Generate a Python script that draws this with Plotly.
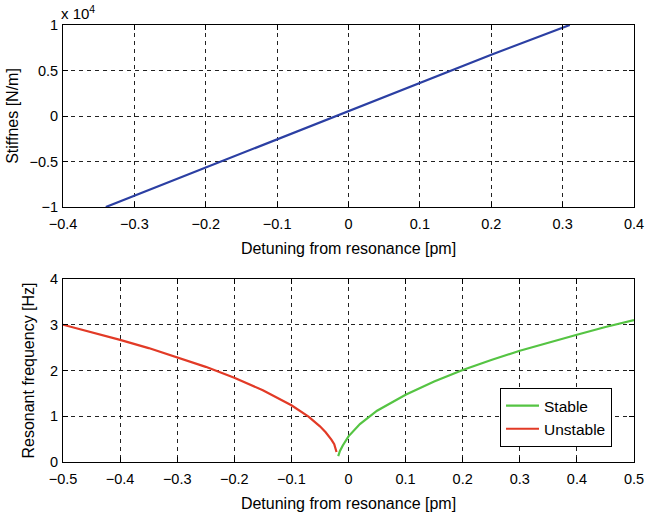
import plotly.graph_objects as go
from plotly.subplots import make_subplots

# Static stiffness versus detuning (N/m)
detuning_k = [-0.34, -0.2, 0.0, 0.1, 0.2, 0.31]
stiffness = [-10000, -5670, 530, 3630, 6730, 10000]

# Resonant frequency, unstable branch (negative stiffness)
detuning_unstable = [-0.5, -0.45, -0.4, -0.35, -0.3, -0.25, -0.2, -0.15, -0.1,
                     -0.07, -0.05, -0.04, -0.03, -0.025, -0.021]
freq_unstable = [3.00, 2.84, 2.67, 2.49, 2.29, 2.08, 1.84, 1.57, 1.24,
                 0.99, 0.78, 0.65, 0.49, 0.39, 0.22]

# Resonant frequency, stable branch (positive stiffness)
detuning_stable = [-0.018, -0.015, -0.01, 0.0, 0.02, 0.05, 0.1, 0.15, 0.2,
                   0.25, 0.3, 0.35, 0.4, 0.45, 0.5]
freq_stable = [0.13, 0.24, 0.36, 0.56, 0.83, 1.12, 1.47, 1.76, 2.01,
               2.23, 2.43, 2.61, 2.78, 2.95, 3.10]

top_xticks = [-0.4, -0.3, -0.2, -0.1, 0, 0.1, 0.2, 0.3, 0.4]
top_yticks = [-10000, -5000, 0, 5000, 10000]
top_ylabels = ["\u22121", "\u22120.5", "0", "0.5", "1"]
bot_xticks = [-0.5, -0.4, -0.3, -0.2, -0.1, 0, 0.1, 0.2, 0.3, 0.4, 0.5]
bot_yticks = [0, 1, 2, 3, 4]

FONT = "Liberation Sans, Arial, Helvetica, sans-serif"

fig = make_subplots(rows=2, cols=1)

fig.add_trace(go.Scatter(x=detuning_k, y=stiffness, mode="lines",
                         line=dict(color="#2B3FA3", width=2.2),
                         showlegend=False), row=1, col=1)
fig.add_trace(go.Scatter(x=detuning_stable, y=freq_stable, mode="lines",
                         name="Stable", line=dict(color="#55C443", width=2.2)),
              row=2, col=1)
fig.add_trace(go.Scatter(x=detuning_unstable, y=freq_unstable, mode="lines",
                         name="Unstable", line=dict(color="#E23A26", width=2.2)),
              row=2, col=1)

axis_common = dict(
    showline=True, linecolor="black", linewidth=1, mirror="ticks",
    ticks="inside", ticklen=5, tickcolor="black",
    showgrid=True, gridcolor="#222222", gridwidth=1, griddash="4px,4px",
    zeroline=False, tickfont=dict(size=14.5, color="black", family=FONT),
)

fig.update_xaxes(axis_common, ticklabelstandoff=4)
fig.update_yaxes(axis_common, ticklabelstandoff=1)

title_font = dict(size=16, color="black", family=FONT)

fig.update_xaxes(row=1, col=1, range=[-0.4, 0.4], tickvals=top_xticks,
                 domain=[0, 1],
                 title=dict(text="Detuning from resonance [pm]",
                            font=title_font, standoff=11))
fig.update_yaxes(row=1, col=1, range=[-10000, 10000], tickvals=top_yticks,
                 ticktext=top_ylabels, domain=[0.5835, 1.0],
                 title=dict(text="Stiffnes [N/m]", font=title_font, standoff=6))
fig.update_xaxes(row=2, col=1, range=[-0.5, 0.5], tickvals=bot_xticks,
                 domain=[0, 1],
                 title=dict(text="Detuning from resonance [pm]",
                            font=title_font, standoff=11))
fig.update_yaxes(row=2, col=1, range=[0, 4], tickvals=bot_yticks,
                 domain=[0.0, 0.4188],
                 title=dict(text="Resonant frequency [Hz]", font=title_font,
                            standoff=11))

fig.add_annotation(text="x 10<sup>4</sup>", xref="paper", yref="paper",
                   x=0.0, y=1.0, xanchor="left", yanchor="bottom", showarrow=False,
                   font=dict(size=15, color="black", family=FONT),
                   xshift=-4, yshift=1)

fig.update_layout(
    width=646, height=517,
    margin=dict(l=63, r=12, t=25, b=55, autoexpand=False),
    paper_bgcolor="white", plot_bgcolor="white",
    font=dict(family=FONT, color="black"),
    legend=dict(x=0.9615, y=0.1018, xanchor="right", yanchor="middle",
                bgcolor="white", bordercolor="black", borderwidth=1,
                font=dict(size=15.5, color="black", family=FONT),
                itemwidth=33, tracegroupgap=0),
)

fig.write_html("out.html")
